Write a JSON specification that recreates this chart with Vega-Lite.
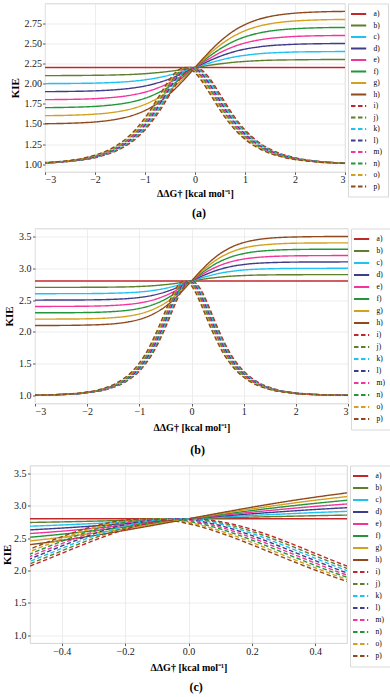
{
"$schema":"https://vega.github.io/schema/vega-lite/v6.json",
"background":"white",
"padding":{"left":0,"top":2.5,"right":0,"bottom":0},
"config":{
"font":"Liberation Serif",
"view":{"stroke":"#c9c9c9","strokeWidth":0.8},
"axis":{"gridColor":"#e8e8e8","gridWidth":0.8,"domain":false,"tickColor":"#333333","tickSize":2.5,"tickWidth":0.8,"labelFont":"Liberation Serif","labelFontSize":10,"labelColor":"#1a1a1a","titleFont":"Liberation Serif","titleFontSize":10,"titleFontWeight":"bold","titleColor":"#000000"},
"axisY":{"titleFontSize":11}
},
"datasets":{
"aS":[
{"x":-3,"a":2.2,"b":2.1,"c":2.001,"d":1.901,"e":1.802,"f":1.702,"g":1.603,"h":1.503},
{"x":-2.5,"a":2.2,"b":2.101,"c":2.003,"d":1.904,"e":1.805,"f":1.707,"g":1.608,"h":1.509},
{"x":-2,"a":2.2,"b":2.104,"c":2.007,"d":1.911,"e":1.814,"f":1.718,"g":1.622,"h":1.525},
{"x":-1.75,"a":2.2,"b":2.106,"c":2.012,"d":1.918,"e":1.824,"f":1.73,"g":1.635,"h":1.541},
{"x":-1.5,"a":2.2,"b":2.11,"c":2.019,"d":1.929,"e":1.838,"f":1.748,"g":1.657,"h":1.567},
{"x":-1.25,"a":2.2,"b":2.115,"c":2.03,"d":1.946,"e":1.861,"f":1.776,"g":1.691,"h":1.606},
{"x":-1,"a":2.2,"b":2.124,"c":2.048,"d":1.971,"e":1.895,"f":1.819,"g":1.743,"h":1.667},
{"x":-0.75,"a":2.2,"b":2.137,"c":2.073,"d":2.01,"e":1.946,"f":1.883,"g":1.819,"h":1.756},
{"x":-0.5,"a":2.2,"b":2.154,"c":2.108,"d":2.061,"e":2.015,"f":1.969,"g":1.923,"h":1.877},
{"x":-0.35,"a":2.2,"b":2.166,"c":2.133,"d":2.099,"e":2.066,"f":2.032,"g":1.998,"h":1.965},
{"x":-0.2,"a":2.2,"b":2.18,"c":2.161,"d":2.141,"e":2.121,"f":2.102,"g":2.082,"h":2.062},
{"x":-0.1,"a":2.2,"b":2.19,"c":2.18,"d":2.17,"e":2.16,"f":2.15,"g":2.14,"h":2.13},
{"x":0,"a":2.2,"b":2.2,"c":2.2,"d":2.2,"e":2.2,"f":2.2,"g":2.2,"h":2.2},
{"x":0.1,"a":2.2,"b":2.21,"c":2.22,"d":2.23,"e":2.24,"f":2.25,"g":2.26,"h":2.27},
{"x":0.2,"a":2.2,"b":2.22,"c":2.239,"d":2.259,"e":2.279,"f":2.299,"g":2.318,"h":2.338},
{"x":0.35,"a":2.2,"b":2.234,"c":2.267,"d":2.301,"e":2.334,"f":2.368,"g":2.402,"h":2.435},
{"x":0.5,"a":2.2,"b":2.246,"c":2.292,"d":2.339,"e":2.385,"f":2.431,"g":2.477,"h":2.523},
{"x":0.75,"a":2.2,"b":2.264,"c":2.327,"d":2.391,"e":2.454,"f":2.518,"g":2.581,"h":2.645},
{"x":1,"a":2.2,"b":2.276,"c":2.352,"d":2.429,"e":2.505,"f":2.581,"g":2.657,"h":2.733},
{"x":1.25,"a":2.2,"b":2.285,"c":2.37,"d":2.454,"e":2.539,"f":2.624,"g":2.709,"h":2.794},
{"x":1.5,"a":2.2,"b":2.291,"c":2.381,"d":2.472,"e":2.562,"f":2.653,"g":2.743,"h":2.834},
{"x":1.75,"a":2.2,"b":2.294,"c":2.388,"d":2.482,"e":2.576,"f":2.671,"g":2.765,"h":2.859},
{"x":2,"a":2.2,"b":2.296,"c":2.393,"d":2.489,"e":2.586,"f":2.682,"g":2.778,"h":2.875},
{"x":2.5,"a":2.2,"b":2.299,"c":2.397,"d":2.496,"e":2.595,"f":2.694,"g":2.792,"h":2.891},
{"x":3,"a":2.2,"b":2.3,"c":2.399,"d":2.499,"e":2.598,"f":2.698,"g":2.797,"h":2.897}
],
"aD":[
{"s":"i","x":-3,"y":1.015},{"s":"i","x":-2.5,"y":1.035},{"s":"i","x":-2,"y":1.081},{"s":"i","x":-1.5,"y":1.188},{"s":"i","x":-1.25,"y":1.284},{"s":"i","x":-1,"y":1.426},{"s":"i","x":-0.75,"y":1.624},{"s":"i","x":-0.5,"y":1.869},{"s":"i","x":-0.35,"y":2.016},{"s":"i","x":-0.2,"y":2.134},{"s":"i","x":-0.1,"y":2.183},{"s":"i","x":0,"y":2.2},{"s":"i","x":0.1,"y":2.183},{"s":"i","x":0.2,"y":2.134},{"s":"i","x":0.35,"y":2.016},{"s":"i","x":0.5,"y":1.869},{"s":"i","x":0.75,"y":1.624},{"s":"i","x":1,"y":1.426},{"s":"i","x":1.25,"y":1.284},{"s":"i","x":1.5,"y":1.188},{"s":"i","x":2,"y":1.081},{"s":"i","x":2.5,"y":1.035},{"s":"i","x":3,"y":1.015},
{"s":"j","x":-3.028,"y":1.015},{"s":"j","x":-2.528,"y":1.035},{"s":"j","x":-2.028,"y":1.081},{"s":"j","x":-1.528,"y":1.188},{"s":"j","x":-1.278,"y":1.284},{"s":"j","x":-1.028,"y":1.426},{"s":"j","x":-0.778,"y":1.624},{"s":"j","x":-0.528,"y":1.869},{"s":"j","x":-0.378,"y":2.016},{"s":"j","x":-0.228,"y":2.134},{"s":"j","x":-0.128,"y":2.183},{"s":"j","x":-0.028,"y":2.2},{"s":"j","x":0.072,"y":2.183},{"s":"j","x":0.172,"y":2.134},{"s":"j","x":0.322,"y":2.016},{"s":"j","x":0.472,"y":1.869},{"s":"j","x":0.722,"y":1.624},{"s":"j","x":0.972,"y":1.426},{"s":"j","x":1.222,"y":1.284},{"s":"j","x":1.472,"y":1.188},{"s":"j","x":1.972,"y":1.081},{"s":"j","x":2.472,"y":1.035},{"s":"j","x":2.972,"y":1.015},{"s":"j","x":3.222,"y":1.01},
{"s":"k","x":-3.056,"y":1.015},{"s":"k","x":-2.556,"y":1.035},{"s":"k","x":-2.056,"y":1.081},{"s":"k","x":-1.556,"y":1.188},{"s":"k","x":-1.306,"y":1.284},{"s":"k","x":-1.056,"y":1.426},{"s":"k","x":-0.806,"y":1.624},{"s":"k","x":-0.556,"y":1.869},{"s":"k","x":-0.406,"y":2.016},{"s":"k","x":-0.256,"y":2.134},{"s":"k","x":-0.156,"y":2.183},{"s":"k","x":-0.056,"y":2.2},{"s":"k","x":0.044,"y":2.183},{"s":"k","x":0.144,"y":2.134},{"s":"k","x":0.294,"y":2.016},{"s":"k","x":0.444,"y":1.869},{"s":"k","x":0.694,"y":1.624},{"s":"k","x":0.944,"y":1.426},{"s":"k","x":1.194,"y":1.284},{"s":"k","x":1.444,"y":1.188},{"s":"k","x":1.944,"y":1.081},{"s":"k","x":2.444,"y":1.035},{"s":"k","x":2.944,"y":1.015},{"s":"k","x":3.194,"y":1.01},
{"s":"l","x":-3.084,"y":1.015},{"s":"l","x":-2.584,"y":1.035},{"s":"l","x":-2.084,"y":1.081},{"s":"l","x":-1.584,"y":1.188},{"s":"l","x":-1.334,"y":1.284},{"s":"l","x":-1.084,"y":1.426},{"s":"l","x":-0.834,"y":1.624},{"s":"l","x":-0.584,"y":1.869},{"s":"l","x":-0.434,"y":2.016},{"s":"l","x":-0.284,"y":2.134},{"s":"l","x":-0.184,"y":2.183},{"s":"l","x":-0.084,"y":2.2},{"s":"l","x":0.016,"y":2.183},{"s":"l","x":0.116,"y":2.134},{"s":"l","x":0.266,"y":2.016},{"s":"l","x":0.416,"y":1.869},{"s":"l","x":0.666,"y":1.624},{"s":"l","x":0.916,"y":1.426},{"s":"l","x":1.166,"y":1.284},{"s":"l","x":1.416,"y":1.188},{"s":"l","x":1.916,"y":1.081},{"s":"l","x":2.416,"y":1.035},{"s":"l","x":2.916,"y":1.015},{"s":"l","x":3.166,"y":1.01},
{"s":"m","x":-3.112,"y":1.015},{"s":"m","x":-2.612,"y":1.035},{"s":"m","x":-2.112,"y":1.081},{"s":"m","x":-1.612,"y":1.188},{"s":"m","x":-1.362,"y":1.284},{"s":"m","x":-1.112,"y":1.426},{"s":"m","x":-0.862,"y":1.624},{"s":"m","x":-0.612,"y":1.869},{"s":"m","x":-0.462,"y":2.016},{"s":"m","x":-0.312,"y":2.134},{"s":"m","x":-0.212,"y":2.183},{"s":"m","x":-0.112,"y":2.2},{"s":"m","x":-0.012,"y":2.183},{"s":"m","x":0.088,"y":2.134},{"s":"m","x":0.238,"y":2.016},{"s":"m","x":0.388,"y":1.869},{"s":"m","x":0.638,"y":1.624},{"s":"m","x":0.888,"y":1.426},{"s":"m","x":1.138,"y":1.284},{"s":"m","x":1.388,"y":1.188},{"s":"m","x":1.888,"y":1.081},{"s":"m","x":2.388,"y":1.035},{"s":"m","x":2.888,"y":1.015},{"s":"m","x":3.138,"y":1.01},
{"s":"n","x":-3.14,"y":1.015},{"s":"n","x":-2.64,"y":1.035},{"s":"n","x":-2.14,"y":1.081},{"s":"n","x":-1.64,"y":1.188},{"s":"n","x":-1.39,"y":1.284},{"s":"n","x":-1.14,"y":1.426},{"s":"n","x":-0.89,"y":1.624},{"s":"n","x":-0.64,"y":1.869},{"s":"n","x":-0.49,"y":2.016},{"s":"n","x":-0.34,"y":2.134},{"s":"n","x":-0.24,"y":2.183},{"s":"n","x":-0.14,"y":2.2},{"s":"n","x":-0.04,"y":2.183},{"s":"n","x":0.06,"y":2.134},{"s":"n","x":0.21,"y":2.016},{"s":"n","x":0.36,"y":1.869},{"s":"n","x":0.61,"y":1.624},{"s":"n","x":0.86,"y":1.426},{"s":"n","x":1.11,"y":1.284},{"s":"n","x":1.36,"y":1.188},{"s":"n","x":1.86,"y":1.081},{"s":"n","x":2.36,"y":1.035},{"s":"n","x":2.86,"y":1.015},{"s":"n","x":3.11,"y":1.01},
{"s":"o","x":-3.168,"y":1.015},{"s":"o","x":-2.668,"y":1.035},{"s":"o","x":-2.168,"y":1.081},{"s":"o","x":-1.668,"y":1.188},{"s":"o","x":-1.418,"y":1.284},{"s":"o","x":-1.168,"y":1.426},{"s":"o","x":-0.918,"y":1.624},{"s":"o","x":-0.668,"y":1.869},{"s":"o","x":-0.518,"y":2.016},{"s":"o","x":-0.368,"y":2.134},{"s":"o","x":-0.268,"y":2.183},{"s":"o","x":-0.168,"y":2.2},{"s":"o","x":-0.068,"y":2.183},{"s":"o","x":0.032,"y":2.134},{"s":"o","x":0.182,"y":2.016},{"s":"o","x":0.332,"y":1.869},{"s":"o","x":0.582,"y":1.624},{"s":"o","x":0.832,"y":1.426},{"s":"o","x":1.082,"y":1.284},{"s":"o","x":1.332,"y":1.188},{"s":"o","x":1.832,"y":1.081},{"s":"o","x":2.332,"y":1.035},{"s":"o","x":2.832,"y":1.015},{"s":"o","x":3.082,"y":1.01},
{"s":"p","x":-3.196,"y":1.015},{"s":"p","x":-2.696,"y":1.035},{"s":"p","x":-2.196,"y":1.081},{"s":"p","x":-1.696,"y":1.188},{"s":"p","x":-1.446,"y":1.284},{"s":"p","x":-1.196,"y":1.426},{"s":"p","x":-0.946,"y":1.624},{"s":"p","x":-0.696,"y":1.869},{"s":"p","x":-0.546,"y":2.016},{"s":"p","x":-0.396,"y":2.134},{"s":"p","x":-0.296,"y":2.183},{"s":"p","x":-0.196,"y":2.2},{"s":"p","x":-0.096,"y":2.183},{"s":"p","x":0.004,"y":2.134},{"s":"p","x":0.154,"y":2.016},{"s":"p","x":0.304,"y":1.869},{"s":"p","x":0.554,"y":1.624},{"s":"p","x":0.804,"y":1.426},{"s":"p","x":1.054,"y":1.284},{"s":"p","x":1.304,"y":1.188},{"s":"p","x":1.804,"y":1.081},{"s":"p","x":2.304,"y":1.035},{"s":"p","x":2.804,"y":1.015},{"s":"p","x":3.054,"y":1.01}
],
"bS":[
{"x":-3,"a":2.8,"b":2.7,"c":2.6,"d":2.5,"e":2.4,"f":2.3,"g":2.201,"h":2.101},
{"x":-2.5,"a":2.8,"b":2.7,"c":2.601,"d":2.501,"e":2.401,"f":2.301,"g":2.202,"h":2.102},
{"x":-2,"a":2.8,"b":2.701,"c":2.602,"d":2.503,"e":2.404,"f":2.305,"g":2.206,"h":2.108},
{"x":-1.75,"a":2.8,"b":2.702,"c":2.604,"d":2.506,"e":2.408,"f":2.31,"g":2.212,"h":2.114},
{"x":-1.5,"a":2.8,"b":2.704,"c":2.608,"d":2.512,"e":2.416,"f":2.32,"g":2.224,"h":2.127},
{"x":-1.25,"a":2.8,"b":2.707,"c":2.615,"d":2.522,"e":2.43,"f":2.337,"g":2.244,"h":2.152},
{"x":-1,"a":2.8,"b":2.714,"c":2.627,"d":2.541,"e":2.455,"f":2.369,"g":2.282,"h":2.196},
{"x":-0.75,"a":2.8,"b":2.725,"c":2.65,"d":2.574,"e":2.499,"f":2.424,"g":2.349,"h":2.274},
{"x":-0.5,"a":2.8,"b":2.743,"c":2.685,"d":2.628,"e":2.571,"f":2.514,"g":2.456,"h":2.399},
{"x":-0.35,"a":2.8,"b":2.757,"c":2.715,"d":2.672,"e":2.629,"f":2.586,"g":2.544,"h":2.501},
{"x":-0.2,"a":2.8,"b":2.775,"c":2.749,"d":2.724,"e":2.698,"f":2.673,"g":2.647,"h":2.622},
{"x":-0.1,"a":2.8,"b":2.787,"c":2.774,"d":2.761,"e":2.748,"f":2.735,"g":2.722,"h":2.709},
{"x":0,"a":2.8,"b":2.8,"c":2.8,"d":2.8,"e":2.8,"f":2.8,"g":2.8,"h":2.8},
{"x":0.1,"a":2.8,"b":2.813,"c":2.826,"d":2.839,"e":2.852,"f":2.865,"g":2.878,"h":2.891},
{"x":0.2,"a":2.8,"b":2.826,"c":2.851,"d":2.877,"e":2.902,"f":2.928,"g":2.953,"h":2.979},
{"x":0.35,"a":2.8,"b":2.843,"c":2.885,"d":2.928,"e":2.971,"f":3.014,"g":3.056,"h":3.099},
{"x":0.5,"a":2.8,"b":2.857,"c":2.915,"d":2.972,"e":3.029,"f":3.087,"g":3.144,"h":3.201},
{"x":0.75,"a":2.8,"b":2.875,"c":2.95,"d":3.026,"e":3.101,"f":3.176,"g":3.251,"h":3.326},
{"x":1,"a":2.8,"b":2.886,"c":2.973,"d":3.059,"e":3.145,"f":3.231,"g":3.318,"h":3.404},
{"x":1.25,"a":2.8,"b":2.893,"c":2.985,"d":3.078,"e":3.17,"f":3.263,"g":3.356,"h":3.448},
{"x":1.5,"a":2.8,"b":2.896,"c":2.992,"d":3.088,"e":3.184,"f":3.28,"g":3.376,"h":3.473},
{"x":1.75,"a":2.8,"b":2.898,"c":2.996,"d":3.094,"e":3.192,"f":3.29,"g":3.388,"h":3.486},
{"x":2,"a":2.8,"b":2.899,"c":2.998,"d":3.097,"e":3.196,"f":3.295,"g":3.394,"h":3.492},
{"x":2.5,"a":2.8,"b":2.9,"c":2.999,"d":3.099,"e":3.199,"f":3.299,"g":3.398,"h":3.498},
{"x":3,"a":2.8,"b":2.9,"c":3,"d":3.1,"e":3.2,"f":3.3,"g":3.399,"h":3.499}
],
"bD":[
{"s":"i","x":-3,"y":1.005},{"s":"i","x":-2.5,"y":1.014},{"s":"i","x":-2,"y":1.042},{"s":"i","x":-1.5,"y":1.127},{"s":"i","x":-1.25,"y":1.222},{"s":"i","x":-1,"y":1.384},{"s":"i","x":-0.75,"y":1.654},{"s":"i","x":-0.5,"y":2.067},{"s":"i","x":-0.35,"y":2.364},{"s":"i","x":-0.2,"y":2.635},{"s":"i","x":-0.1,"y":2.756},{"s":"i","x":0,"y":2.8},{"s":"i","x":0.1,"y":2.756},{"s":"i","x":0.2,"y":2.635},{"s":"i","x":0.35,"y":2.364},{"s":"i","x":0.5,"y":2.067},{"s":"i","x":0.75,"y":1.654},{"s":"i","x":1,"y":1.384},{"s":"i","x":1.25,"y":1.222},{"s":"i","x":1.5,"y":1.127},{"s":"i","x":2,"y":1.042},{"s":"i","x":2.5,"y":1.014},{"s":"i","x":3,"y":1.005},
{"s":"j","x":-3.019,"y":1.005},{"s":"j","x":-2.519,"y":1.014},{"s":"j","x":-2.019,"y":1.042},{"s":"j","x":-1.519,"y":1.127},{"s":"j","x":-1.269,"y":1.222},{"s":"j","x":-1.019,"y":1.384},{"s":"j","x":-0.769,"y":1.654},{"s":"j","x":-0.519,"y":2.067},{"s":"j","x":-0.369,"y":2.364},{"s":"j","x":-0.219,"y":2.635},{"s":"j","x":-0.119,"y":2.756},{"s":"j","x":-0.019,"y":2.8},{"s":"j","x":0.081,"y":2.756},{"s":"j","x":0.181,"y":2.635},{"s":"j","x":0.331,"y":2.364},{"s":"j","x":0.481,"y":2.067},{"s":"j","x":0.731,"y":1.654},{"s":"j","x":0.981,"y":1.384},{"s":"j","x":1.231,"y":1.222},{"s":"j","x":1.481,"y":1.127},{"s":"j","x":1.981,"y":1.042},{"s":"j","x":2.481,"y":1.014},{"s":"j","x":2.981,"y":1.005},{"s":"j","x":3.231,"y":1.003},
{"s":"k","x":-3.038,"y":1.005},{"s":"k","x":-2.538,"y":1.014},{"s":"k","x":-2.038,"y":1.042},{"s":"k","x":-1.538,"y":1.127},{"s":"k","x":-1.288,"y":1.222},{"s":"k","x":-1.038,"y":1.384},{"s":"k","x":-0.788,"y":1.654},{"s":"k","x":-0.538,"y":2.067},{"s":"k","x":-0.388,"y":2.364},{"s":"k","x":-0.238,"y":2.635},{"s":"k","x":-0.138,"y":2.756},{"s":"k","x":-0.038,"y":2.8},{"s":"k","x":0.062,"y":2.756},{"s":"k","x":0.162,"y":2.635},{"s":"k","x":0.312,"y":2.364},{"s":"k","x":0.462,"y":2.067},{"s":"k","x":0.712,"y":1.654},{"s":"k","x":0.962,"y":1.384},{"s":"k","x":1.212,"y":1.222},{"s":"k","x":1.462,"y":1.127},{"s":"k","x":1.962,"y":1.042},{"s":"k","x":2.462,"y":1.014},{"s":"k","x":2.962,"y":1.005},{"s":"k","x":3.212,"y":1.003},
{"s":"l","x":-3.057,"y":1.005},{"s":"l","x":-2.557,"y":1.014},{"s":"l","x":-2.057,"y":1.042},{"s":"l","x":-1.557,"y":1.127},{"s":"l","x":-1.307,"y":1.222},{"s":"l","x":-1.057,"y":1.384},{"s":"l","x":-0.807,"y":1.654},{"s":"l","x":-0.557,"y":2.067},{"s":"l","x":-0.407,"y":2.364},{"s":"l","x":-0.257,"y":2.635},{"s":"l","x":-0.157,"y":2.756},{"s":"l","x":-0.057,"y":2.8},{"s":"l","x":0.043,"y":2.756},{"s":"l","x":0.143,"y":2.635},{"s":"l","x":0.293,"y":2.364},{"s":"l","x":0.443,"y":2.067},{"s":"l","x":0.693,"y":1.654},{"s":"l","x":0.943,"y":1.384},{"s":"l","x":1.193,"y":1.222},{"s":"l","x":1.443,"y":1.127},{"s":"l","x":1.943,"y":1.042},{"s":"l","x":2.443,"y":1.014},{"s":"l","x":2.943,"y":1.005},{"s":"l","x":3.193,"y":1.003},
{"s":"m","x":-3.076,"y":1.005},{"s":"m","x":-2.576,"y":1.014},{"s":"m","x":-2.076,"y":1.042},{"s":"m","x":-1.576,"y":1.127},{"s":"m","x":-1.326,"y":1.222},{"s":"m","x":-1.076,"y":1.384},{"s":"m","x":-0.826,"y":1.654},{"s":"m","x":-0.576,"y":2.067},{"s":"m","x":-0.426,"y":2.364},{"s":"m","x":-0.276,"y":2.635},{"s":"m","x":-0.176,"y":2.756},{"s":"m","x":-0.076,"y":2.8},{"s":"m","x":0.024,"y":2.756},{"s":"m","x":0.124,"y":2.635},{"s":"m","x":0.274,"y":2.364},{"s":"m","x":0.424,"y":2.067},{"s":"m","x":0.674,"y":1.654},{"s":"m","x":0.924,"y":1.384},{"s":"m","x":1.174,"y":1.222},{"s":"m","x":1.424,"y":1.127},{"s":"m","x":1.924,"y":1.042},{"s":"m","x":2.424,"y":1.014},{"s":"m","x":2.924,"y":1.005},{"s":"m","x":3.174,"y":1.003},
{"s":"n","x":-3.095,"y":1.005},{"s":"n","x":-2.595,"y":1.014},{"s":"n","x":-2.095,"y":1.042},{"s":"n","x":-1.595,"y":1.127},{"s":"n","x":-1.345,"y":1.222},{"s":"n","x":-1.095,"y":1.384},{"s":"n","x":-0.845,"y":1.654},{"s":"n","x":-0.595,"y":2.067},{"s":"n","x":-0.445,"y":2.364},{"s":"n","x":-0.295,"y":2.635},{"s":"n","x":-0.195,"y":2.756},{"s":"n","x":-0.095,"y":2.8},{"s":"n","x":0.005,"y":2.756},{"s":"n","x":0.105,"y":2.635},{"s":"n","x":0.255,"y":2.364},{"s":"n","x":0.405,"y":2.067},{"s":"n","x":0.655,"y":1.654},{"s":"n","x":0.905,"y":1.384},{"s":"n","x":1.155,"y":1.222},{"s":"n","x":1.405,"y":1.127},{"s":"n","x":1.905,"y":1.042},{"s":"n","x":2.405,"y":1.014},{"s":"n","x":2.905,"y":1.005},{"s":"n","x":3.155,"y":1.003},
{"s":"o","x":-3.114,"y":1.005},{"s":"o","x":-2.614,"y":1.014},{"s":"o","x":-2.114,"y":1.042},{"s":"o","x":-1.614,"y":1.127},{"s":"o","x":-1.364,"y":1.222},{"s":"o","x":-1.114,"y":1.384},{"s":"o","x":-0.864,"y":1.654},{"s":"o","x":-0.614,"y":2.067},{"s":"o","x":-0.464,"y":2.364},{"s":"o","x":-0.314,"y":2.635},{"s":"o","x":-0.214,"y":2.756},{"s":"o","x":-0.114,"y":2.8},{"s":"o","x":-0.014,"y":2.756},{"s":"o","x":0.086,"y":2.635},{"s":"o","x":0.236,"y":2.364},{"s":"o","x":0.386,"y":2.067},{"s":"o","x":0.636,"y":1.654},{"s":"o","x":0.886,"y":1.384},{"s":"o","x":1.136,"y":1.222},{"s":"o","x":1.386,"y":1.127},{"s":"o","x":1.886,"y":1.042},{"s":"o","x":2.386,"y":1.014},{"s":"o","x":2.886,"y":1.005},{"s":"o","x":3.136,"y":1.003},
{"s":"p","x":-3.133,"y":1.005},{"s":"p","x":-2.633,"y":1.014},{"s":"p","x":-2.133,"y":1.042},{"s":"p","x":-1.633,"y":1.127},{"s":"p","x":-1.383,"y":1.222},{"s":"p","x":-1.133,"y":1.384},{"s":"p","x":-0.883,"y":1.654},{"s":"p","x":-0.633,"y":2.067},{"s":"p","x":-0.483,"y":2.364},{"s":"p","x":-0.333,"y":2.635},{"s":"p","x":-0.233,"y":2.756},{"s":"p","x":-0.133,"y":2.8},{"s":"p","x":-0.033,"y":2.756},{"s":"p","x":0.067,"y":2.635},{"s":"p","x":0.217,"y":2.364},{"s":"p","x":0.367,"y":2.067},{"s":"p","x":0.617,"y":1.654},{"s":"p","x":0.867,"y":1.384},{"s":"p","x":1.117,"y":1.222},{"s":"p","x":1.367,"y":1.127},{"s":"p","x":1.867,"y":1.042},{"s":"p","x":2.367,"y":1.014},{"s":"p","x":2.867,"y":1.005},{"s":"p","x":3.117,"y":1.003}
],
"cS":[
{"x":-0.5,"a":2.8,"b":2.743,"c":2.685,"d":2.628,"e":2.571,"f":2.514,"g":2.456,"h":2.399},
{"x":-0.4,"a":2.8,"b":2.752,"c":2.704,"d":2.656,"e":2.608,"f":2.561,"g":2.513,"h":2.465},
{"x":-0.3,"a":2.8,"b":2.763,"c":2.726,"d":2.688,"e":2.651,"f":2.614,"g":2.577,"h":2.539},
{"x":-0.2,"a":2.8,"b":2.775,"c":2.749,"d":2.724,"e":2.698,"f":2.673,"g":2.647,"h":2.622},
{"x":-0.1,"a":2.8,"b":2.787,"c":2.774,"d":2.761,"e":2.748,"f":2.735,"g":2.722,"h":2.709},
{"x":0,"a":2.8,"b":2.8,"c":2.8,"d":2.8,"e":2.8,"f":2.8,"g":2.8,"h":2.8},
{"x":0.1,"a":2.8,"b":2.813,"c":2.826,"d":2.839,"e":2.852,"f":2.865,"g":2.878,"h":2.891},
{"x":0.2,"a":2.8,"b":2.826,"c":2.851,"d":2.877,"e":2.902,"f":2.928,"g":2.953,"h":2.979},
{"x":0.3,"a":2.8,"b":2.837,"c":2.874,"d":2.912,"e":2.949,"f":2.986,"g":3.023,"h":3.061},
{"x":0.4,"a":2.8,"b":2.848,"c":2.896,"d":2.944,"e":2.992,"f":3.039,"g":3.087,"h":3.135},
{"x":0.5,"a":2.8,"b":2.857,"c":2.915,"d":2.972,"e":3.029,"f":3.087,"g":3.144,"h":3.201}
],
"cD":[
{"s":"i","x":-0.5,"y":2.067},{"s":"i","x":-0.45,"y":2.165},{"s":"i","x":-0.4,"y":2.264},{"s":"i","x":-0.35,"y":2.364},{"s":"i","x":-0.3,"y":2.461},{"s":"i","x":-0.25,"y":2.553},{"s":"i","x":-0.2,"y":2.635},{"s":"i","x":-0.15,"y":2.704},{"s":"i","x":-0.1,"y":2.756},{"s":"i","x":-0.05,"y":2.789},{"s":"i","x":0,"y":2.8},{"s":"i","x":0.05,"y":2.789},{"s":"i","x":0.1,"y":2.756},{"s":"i","x":0.15,"y":2.704},{"s":"i","x":0.2,"y":2.635},{"s":"i","x":0.25,"y":2.553},{"s":"i","x":0.3,"y":2.461},{"s":"i","x":0.35,"y":2.364},{"s":"i","x":0.4,"y":2.264},{"s":"i","x":0.45,"y":2.165},{"s":"i","x":0.5,"y":2.067},
{"s":"j","x":-0.519,"y":2.067},{"s":"j","x":-0.469,"y":2.165},{"s":"j","x":-0.419,"y":2.264},{"s":"j","x":-0.369,"y":2.364},{"s":"j","x":-0.319,"y":2.461},{"s":"j","x":-0.269,"y":2.553},{"s":"j","x":-0.219,"y":2.635},{"s":"j","x":-0.169,"y":2.704},{"s":"j","x":-0.119,"y":2.756},{"s":"j","x":-0.069,"y":2.789},{"s":"j","x":-0.019,"y":2.8},{"s":"j","x":0.031,"y":2.789},{"s":"j","x":0.081,"y":2.756},{"s":"j","x":0.131,"y":2.704},{"s":"j","x":0.181,"y":2.635},{"s":"j","x":0.231,"y":2.553},{"s":"j","x":0.281,"y":2.461},{"s":"j","x":0.331,"y":2.364},{"s":"j","x":0.381,"y":2.264},{"s":"j","x":0.431,"y":2.165},{"s":"j","x":0.481,"y":2.067},{"s":"j","x":0.531,"y":1.974},
{"s":"k","x":-0.538,"y":2.067},{"s":"k","x":-0.488,"y":2.165},{"s":"k","x":-0.438,"y":2.264},{"s":"k","x":-0.388,"y":2.364},{"s":"k","x":-0.338,"y":2.461},{"s":"k","x":-0.288,"y":2.553},{"s":"k","x":-0.238,"y":2.635},{"s":"k","x":-0.188,"y":2.704},{"s":"k","x":-0.138,"y":2.756},{"s":"k","x":-0.088,"y":2.789},{"s":"k","x":-0.038,"y":2.8},{"s":"k","x":0.012,"y":2.789},{"s":"k","x":0.062,"y":2.756},{"s":"k","x":0.112,"y":2.704},{"s":"k","x":0.162,"y":2.635},{"s":"k","x":0.212,"y":2.553},{"s":"k","x":0.262,"y":2.461},{"s":"k","x":0.312,"y":2.364},{"s":"k","x":0.362,"y":2.264},{"s":"k","x":0.412,"y":2.165},{"s":"k","x":0.462,"y":2.067},{"s":"k","x":0.512,"y":1.974},
{"s":"l","x":-0.507,"y":2.165},{"s":"l","x":-0.457,"y":2.264},{"s":"l","x":-0.407,"y":2.364},{"s":"l","x":-0.357,"y":2.461},{"s":"l","x":-0.307,"y":2.553},{"s":"l","x":-0.257,"y":2.635},{"s":"l","x":-0.207,"y":2.704},{"s":"l","x":-0.157,"y":2.756},{"s":"l","x":-0.107,"y":2.789},{"s":"l","x":-0.057,"y":2.8},{"s":"l","x":-0.007,"y":2.789},{"s":"l","x":0.043,"y":2.756},{"s":"l","x":0.093,"y":2.704},{"s":"l","x":0.143,"y":2.635},{"s":"l","x":0.193,"y":2.553},{"s":"l","x":0.243,"y":2.461},{"s":"l","x":0.293,"y":2.364},{"s":"l","x":0.343,"y":2.264},{"s":"l","x":0.393,"y":2.165},{"s":"l","x":0.443,"y":2.067},{"s":"l","x":0.493,"y":1.974},{"s":"l","x":0.543,"y":1.885},
{"s":"m","x":-0.526,"y":2.165},{"s":"m","x":-0.476,"y":2.264},{"s":"m","x":-0.426,"y":2.364},{"s":"m","x":-0.376,"y":2.461},{"s":"m","x":-0.326,"y":2.553},{"s":"m","x":-0.276,"y":2.635},{"s":"m","x":-0.226,"y":2.704},{"s":"m","x":-0.176,"y":2.756},{"s":"m","x":-0.126,"y":2.789},{"s":"m","x":-0.076,"y":2.8},{"s":"m","x":-0.026,"y":2.789},{"s":"m","x":0.024,"y":2.756},{"s":"m","x":0.074,"y":2.704},{"s":"m","x":0.124,"y":2.635},{"s":"m","x":0.174,"y":2.553},{"s":"m","x":0.224,"y":2.461},{"s":"m","x":0.274,"y":2.364},{"s":"m","x":0.324,"y":2.264},{"s":"m","x":0.374,"y":2.165},{"s":"m","x":0.424,"y":2.067},{"s":"m","x":0.474,"y":1.974},{"s":"m","x":0.524,"y":1.885},
{"s":"n","x":-0.545,"y":2.165},{"s":"n","x":-0.495,"y":2.264},{"s":"n","x":-0.445,"y":2.364},{"s":"n","x":-0.395,"y":2.461},{"s":"n","x":-0.345,"y":2.553},{"s":"n","x":-0.295,"y":2.635},{"s":"n","x":-0.245,"y":2.704},{"s":"n","x":-0.195,"y":2.756},{"s":"n","x":-0.145,"y":2.789},{"s":"n","x":-0.095,"y":2.8},{"s":"n","x":-0.045,"y":2.789},{"s":"n","x":0.005,"y":2.756},{"s":"n","x":0.055,"y":2.704},{"s":"n","x":0.105,"y":2.635},{"s":"n","x":0.155,"y":2.553},{"s":"n","x":0.205,"y":2.461},{"s":"n","x":0.255,"y":2.364},{"s":"n","x":0.305,"y":2.264},{"s":"n","x":0.355,"y":2.165},{"s":"n","x":0.405,"y":2.067},{"s":"n","x":0.455,"y":1.974},{"s":"n","x":0.505,"y":1.885},
{"s":"o","x":-0.514,"y":2.264},{"s":"o","x":-0.464,"y":2.364},{"s":"o","x":-0.414,"y":2.461},{"s":"o","x":-0.364,"y":2.553},{"s":"o","x":-0.314,"y":2.635},{"s":"o","x":-0.264,"y":2.704},{"s":"o","x":-0.214,"y":2.756},{"s":"o","x":-0.164,"y":2.789},{"s":"o","x":-0.114,"y":2.8},{"s":"o","x":-0.064,"y":2.789},{"s":"o","x":-0.014,"y":2.756},{"s":"o","x":0.036,"y":2.704},{"s":"o","x":0.086,"y":2.635},{"s":"o","x":0.136,"y":2.553},{"s":"o","x":0.186,"y":2.461},{"s":"o","x":0.236,"y":2.364},{"s":"o","x":0.286,"y":2.264},{"s":"o","x":0.336,"y":2.165},{"s":"o","x":0.386,"y":2.067},{"s":"o","x":0.436,"y":1.974},{"s":"o","x":0.486,"y":1.885},{"s":"o","x":0.536,"y":1.802},
{"s":"p","x":-0.533,"y":2.264},{"s":"p","x":-0.483,"y":2.364},{"s":"p","x":-0.433,"y":2.461},{"s":"p","x":-0.383,"y":2.553},{"s":"p","x":-0.333,"y":2.635},{"s":"p","x":-0.283,"y":2.704},{"s":"p","x":-0.233,"y":2.756},{"s":"p","x":-0.183,"y":2.789},{"s":"p","x":-0.133,"y":2.8},{"s":"p","x":-0.083,"y":2.789},{"s":"p","x":-0.033,"y":2.756},{"s":"p","x":0.017,"y":2.704},{"s":"p","x":0.067,"y":2.635},{"s":"p","x":0.117,"y":2.553},{"s":"p","x":0.167,"y":2.461},{"s":"p","x":0.217,"y":2.364},{"s":"p","x":0.267,"y":2.264},{"s":"p","x":0.317,"y":2.165},{"s":"p","x":0.367,"y":2.067},{"s":"p","x":0.417,"y":1.974},{"s":"p","x":0.467,"y":1.885},{"s":"p","x":0.517,"y":1.802}
]
},
"concat":[
{"hconcat":[
{"width":7.6,"height":1,"data":{"values":[]},"mark":"point","view":{"stroke":null}},
{
"width":300,"height":168.4,
"title":{"text":"(a)","orient":"bottom","frame":"bounds","anchor":"middle","offset":9,"fontSize":12,"fontWeight":"bold","font":"Liberation Serif","color":"#000000"},
"encoding":{
"x":{"field":"x","type":"quantitative","scale":{"domain":[-3,3],"nice":false,"zero":false},"axis":{"values":[-3,-2,-1,0,1,2,3],"format":"d","title":"ΔΔG†  [kcal mol⁻¹]","labelPadding":0,"titlePadding":4.2}},
"y":{"field":"y","type":"quantitative","scale":{"domain":[0.905,2.995],"nice":false,"zero":false},"axis":{"values":[1,1.25,1.5,1.75,2,2.25,2.5,2.75],"format":".2f","title":"KIE","labelPadding":1,"titlePadding":3.7}},
"color":{"field":"s","type":"nominal","scale":{"domain":["a","b","c","d","e","f","g","h","i","j","k","l","m","n","o","p"],"range":["#C0282E","#5E7F2B","#1FC2F0","#3F3D8A","#F2359D","#23963A","#D4A020","#8E4A1E","#C0282E","#5E7F2B","#1FC2F0","#3F3D8A","#F2359D","#23963A","#D4A020","#8E4A1E"]},"legend":{"title":null,"orient":"right","offset":3.4,"padding":5.6,"rowPadding":2.5,"symbolType":"M-1.9,0H1.9","symbolSize":64,"symbolStrokeWidth":2,"labelFontSize":7.5,"labelFont":"Liberation Serif","labelOffset":10,"strokeColor":"#d9d9d9","labelExpr":"datum.label + ')'"}},
"strokeDash":{"field":"s","type":"nominal","scale":{"domain":["a","b","c","d","e","f","g","h","i","j","k","l","m","n","o","p"],"range":[[1,0],[1,0],[1,0],[1,0],[1,0],[1,0],[1,0],[1,0],[4.5,2.5],[4.5,2.5],[4.5,2.5],[4.5,2.5],[4.5,2.5],[4.5,2.5],[4.5,2.5],[4.5,2.5]]},"legend":{"title":null,"orient":"right","offset":3.4,"padding":5.6,"rowPadding":2.5,"symbolType":"M-1.9,0H1.9","symbolSize":64,"symbolStrokeWidth":2,"labelFontSize":7.5,"labelFont":"Liberation Serif","labelOffset":10,"strokeColor":"#d9d9d9","labelExpr":"datum.label + ')'"}}
},
"layer":[
{"data":{"name":"aS"},"transform":[{"fold":["a","b","c","d","e","f","g","h"],"as":["s","y"]}],"mark":{"type":"line","strokeWidth":1.4,"interpolate":"monotone","clip":true}},
{"data":{"name":"aD"},"mark":{"type":"line","strokeWidth":1.4,"interpolate":"monotone","clip":true}}
]
}
],"spacing":0,"resolve":{"scale":{"color":"independent","strokeDash":"independent"},"legend":{"color":"independent","strokeDash":"independent"}}},
{"hconcat":[
{"width":2.6,"height":1,"data":{"values":[]},"mark":"point","view":{"stroke":null}},
{
"width":313,"height":175,
"title":{"text":"(b)","orient":"bottom","frame":"bounds","anchor":"middle","offset":12,"fontSize":12,"fontWeight":"bold","font":"Liberation Serif","color":"#000000"},
"encoding":{
"x":{"field":"x","type":"quantitative","scale":{"domain":[-3,3],"nice":false,"zero":false},"axis":{"values":[-3,-2,-1,0,1,2,3],"format":"d","title":"ΔΔG†  [kcal mol⁻¹]","labelPadding":0,"titlePadding":6.5}},
"y":{"field":"y","type":"quantitative","scale":{"domain":[0.875,3.625],"nice":false,"zero":false},"axis":{"values":[1,1.5,2,2.5,3,3.5],"format":".1f","title":"KIE","labelPadding":1.5,"titlePadding":3.9}},
"color":{"field":"s","type":"nominal","scale":{"domain":["a","b","c","d","e","f","g","h","i","j","k","l","m","n","o","p"],"range":["#C0282E","#5E7F2B","#1FC2F0","#3F3D8A","#F2359D","#23963A","#D4A020","#8E4A1E","#C0282E","#5E7F2B","#1FC2F0","#3F3D8A","#F2359D","#23963A","#D4A020","#8E4A1E"]},"legend":{"title":null,"orient":"right","offset":3.4,"padding":5.6,"rowPadding":3,"symbolType":"M-1.9,0H1.9","symbolSize":64,"symbolStrokeWidth":2,"labelFontSize":7.5,"labelFont":"Liberation Serif","labelOffset":10,"strokeColor":"#d9d9d9","labelExpr":"datum.label + ')'"}},
"strokeDash":{"field":"s","type":"nominal","scale":{"domain":["a","b","c","d","e","f","g","h","i","j","k","l","m","n","o","p"],"range":[[1,0],[1,0],[1,0],[1,0],[1,0],[1,0],[1,0],[1,0],[4.5,2.5],[4.5,2.5],[4.5,2.5],[4.5,2.5],[4.5,2.5],[4.5,2.5],[4.5,2.5],[4.5,2.5]]},"legend":{"title":null,"orient":"right","offset":3.4,"padding":5.6,"rowPadding":3,"symbolType":"M-1.9,0H1.9","symbolSize":64,"symbolStrokeWidth":2,"labelFontSize":7.5,"labelFont":"Liberation Serif","labelOffset":10,"strokeColor":"#d9d9d9","labelExpr":"datum.label + ')'"}}
},
"layer":[
{"data":{"name":"bS"},"transform":[{"fold":["a","b","c","d","e","f","g","h"],"as":["s","y"]}],"mark":{"type":"line","strokeWidth":1.4,"interpolate":"monotone","clip":true}},
{"data":{"name":"bD"},"mark":{"type":"line","strokeWidth":1.4,"interpolate":"monotone","clip":true}}
]
}
],"spacing":0,"resolve":{"scale":{"color":"independent","strokeDash":"independent"},"legend":{"color":"independent","strokeDash":"independent"}}},
{"hconcat":[
{"width":1,"height":1,"data":{"values":[]},"mark":"point","view":{"stroke":null}},
{
"width":317,"height":177.6,
"title":{"text":"(c)","orient":"bottom","frame":"bounds","anchor":"middle","offset":9.7,"fontSize":12,"fontWeight":"bold","font":"Liberation Serif","color":"#000000"},
"encoding":{
"x":{"field":"x","type":"quantitative","scale":{"domain":[-0.5,0.5],"nice":false,"zero":false},"axis":{"values":[-0.4,-0.2,0,0.2,0.4],"format":".1f","title":"ΔΔG†  [kcal mol⁻¹]","labelPadding":0.5,"titlePadding":6.5}},
"y":{"field":"y","type":"quantitative","scale":{"domain":[0.875,3.625],"nice":false,"zero":false},"axis":{"values":[1,1.5,2,2.5,3,3.5],"format":".1f","title":"KIE","labelPadding":1.5,"titlePadding":0.8}},
"color":{"field":"s","type":"nominal","scale":{"domain":["a","b","c","d","e","f","g","h","i","j","k","l","m","n","o","p"],"range":["#C0282E","#5E7F2B","#1FC2F0","#3F3D8A","#F2359D","#23963A","#D4A020","#8E4A1E","#C0282E","#5E7F2B","#1FC2F0","#3F3D8A","#F2359D","#23963A","#D4A020","#8E4A1E"]},"legend":{"title":null,"orient":"right","offset":3.4,"padding":5.6,"rowPadding":3,"symbolType":"M-1.9,0H1.9","symbolSize":64,"symbolStrokeWidth":2,"labelFontSize":7.5,"labelFont":"Liberation Serif","labelOffset":10,"strokeColor":"#d9d9d9","labelExpr":"datum.label + ')'"}},
"strokeDash":{"field":"s","type":"nominal","scale":{"domain":["a","b","c","d","e","f","g","h","i","j","k","l","m","n","o","p"],"range":[[1,0],[1,0],[1,0],[1,0],[1,0],[1,0],[1,0],[1,0],[4.5,2.5],[4.5,2.5],[4.5,2.5],[4.5,2.5],[4.5,2.5],[4.5,2.5],[4.5,2.5],[4.5,2.5]]},"legend":{"title":null,"orient":"right","offset":3.4,"padding":5.6,"rowPadding":3,"symbolType":"M-1.9,0H1.9","symbolSize":64,"symbolStrokeWidth":2,"labelFontSize":7.5,"labelFont":"Liberation Serif","labelOffset":10,"strokeColor":"#d9d9d9","labelExpr":"datum.label + ')'"}}
},
"layer":[
{"data":{"name":"cS"},"transform":[{"fold":["a","b","c","d","e","f","g","h"],"as":["s","y"]}],"mark":{"type":"line","strokeWidth":1.4,"interpolate":"monotone","clip":true}},
{"data":{"name":"cD"},"mark":{"type":"line","strokeWidth":1.4,"interpolate":"monotone","clip":true}}
]
}
],"spacing":0,"resolve":{"scale":{"color":"independent","strokeDash":"independent"},"legend":{"color":"independent","strokeDash":"independent"}}}
],
"columns":1,
"align":"none",
"spacing":8,
"resolve":{"scale":{"x":"independent","y":"independent","color":"independent","strokeDash":"independent"},"legend":{"color":"independent","strokeDash":"independent"}}
}
